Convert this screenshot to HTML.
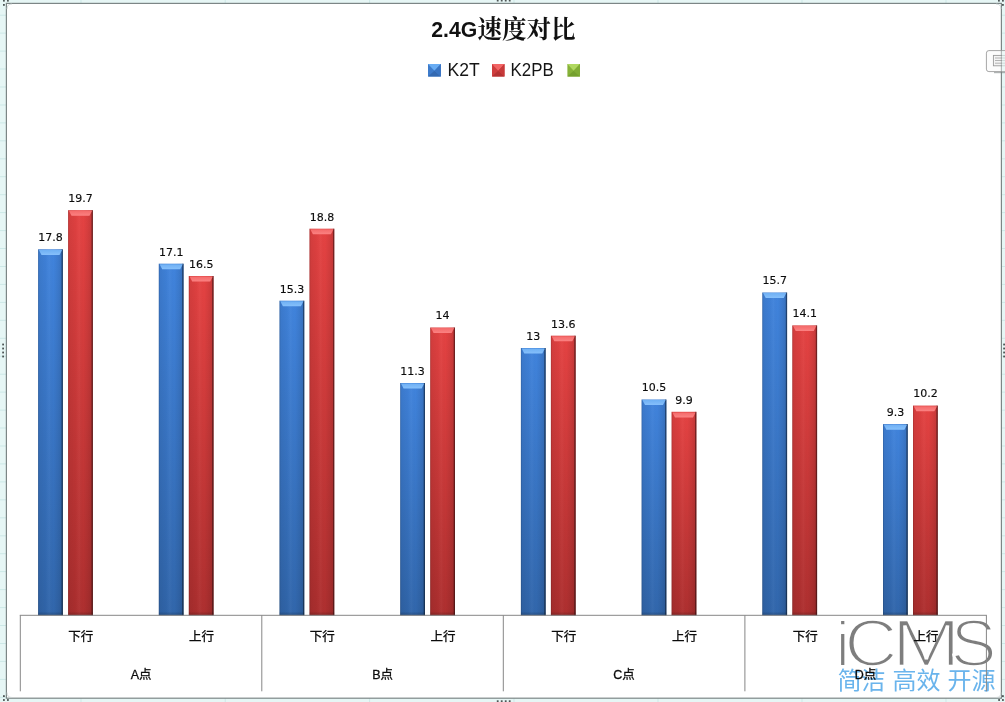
<!DOCTYPE html>
<html lang="zh"><head><meta charset="utf-8"><title>2.4G速度对比</title>
<style>
html,body{margin:0;padding:0;background:#e6f6f5;}
body{width:1005px;height:702px;overflow:hidden;position:relative;font-family:"Liberation Sans","Noto Sans CJK SC",sans-serif;}
svg{position:absolute;left:0;top:0;display:block}
.dl text{font-family:"DejaVu Sans","Liberation Sans",sans-serif;font-size:11px;text-anchor:middle;fill:#0c0c0c;stroke:#0c0c0c;stroke-width:.15px}
.cl text{font-family:"Liberation Sans","Noto Sans CJK SC",sans-serif;font-size:12.5px;text-anchor:middle;fill:#0c0c0c;stroke:#0c0c0c;stroke-width:.3px}
.gl text{font-family:"Liberation Sans","Noto Sans CJK SC",sans-serif;font-size:12.5px;text-anchor:middle;fill:#0c0c0c;stroke:#0c0c0c;stroke-width:.3px}
.ax line{stroke:#868686;stroke-width:1}
</style></head><body>
<svg width="1005" height="702" viewBox="0 0 1005 702">
<defs>
<linearGradient id="gb" x1="0" y1="0" x2="0" y2="1"><stop offset="0" stop-color="#4083dc"/><stop offset="1" stop-color="#3166ab"/></linearGradient>
<linearGradient id="gr" x1="0" y1="0" x2="0" y2="1"><stop offset="0" stop-color="#e44242"/><stop offset="1" stop-color="#ad2f2f"/></linearGradient>
<linearGradient id="side" x1="0" y1="0" x2="1" y2="0"><stop offset="0" stop-color="#000" stop-opacity=".26"/><stop offset=".035" stop-color="#000" stop-opacity=".12"/><stop offset=".06" stop-color="#000" stop-opacity=".07"/><stop offset=".3" stop-color="#000" stop-opacity=".03"/><stop offset=".45" stop-color="#fff" stop-opacity=".03"/><stop offset=".62" stop-color="#000" stop-opacity="0"/><stop offset=".8" stop-color="#000" stop-opacity=".06"/><stop offset=".93" stop-color="#000" stop-opacity=".12"/><stop offset=".955" stop-color="#000" stop-opacity=".45"/><stop offset="1" stop-color="#000" stop-opacity=".55"/></linearGradient>
<linearGradient id="tb" x1="0" y1="0" x2="0" y2="1"><stop offset="0" stop-color="#6fb0f4"/><stop offset="1" stop-color="#86c0fb"/></linearGradient>
<linearGradient id="tr" x1="0" y1="0" x2="0" y2="1"><stop offset="0" stop-color="#f46a6a"/><stop offset="1" stop-color="#fb8282"/></linearGradient>
<linearGradient id="bot" x1="0" y1="0" x2="0" y2="1"><stop offset="0" stop-color="#000" stop-opacity="0"/><stop offset="1" stop-color="#000" stop-opacity=".22"/></linearGradient>
</defs>
<!-- sheet background -->
<rect width="1005" height="702" fill="#e6f6f5"/>
<path d="M0 15.2H1005M0 33.1H1005M0 51.1H1005M0 69.0H1005M0 87.0H1005M0 105.0H1005M0 122.9H1005M0 140.8H1005M0 158.8H1005M0 176.7H1005M0 194.7H1005M0 212.6H1005M0 230.6H1005M0 248.5H1005M0 266.5H1005M0 284.4H1005M0 302.4H1005M0 320.3H1005M0 338.3H1005M0 356.2H1005M0 374.2H1005M0 392.1H1005M0 410.1H1005M0 428.0H1005M0 446.0H1005M0 463.9H1005M0 481.9H1005M0 499.8H1005M0 517.8H1005M0 535.8H1005M0 553.7H1005M0 571.6H1005M0 589.6H1005M0 607.6H1005M0 625.5H1005M0 643.5H1005M0 661.4H1005M0 679.4H1005M0 697.3H1005M81 0V702M225.2 0V702M369.6 0V702M514 0V702M658 0V702M802 0V702M946 0V702" stroke="#cde8e7" stroke-width="1" fill="none"/>
<!-- chart area -->
<rect x="6.4" y="3.4" width="995" height="694.8" fill="#fff" stroke="#7c8686" stroke-width="1.2"/>
<g fill="none" stroke="#c9d2d2" stroke-width=".8"><path d="M7 9Q7 4 12 4"/><path d="M1001 9Q1001 4 996 4"/><path d="M7 692.5Q7 697.5 12 697.5"/><path d="M1001 692.5Q1001 697.5 996 697.5"/></g>
<!-- watermark -->
<g id="wm">
<text y="666.4" font-family="'Liberation Sans',sans-serif" font-size="66.6" fill="#7e7e7e" stroke="#fff" stroke-width="2.6"><tspan x="835.7" font-size="63" stroke-width="2.2">i</tspan><tspan x="844.3" textLength="53.4" lengthAdjust="spacingAndGlyphs">C</tspan><tspan x="891.2" textLength="69.9" lengthAdjust="spacingAndGlyphs">M</tspan><tspan x="950.6" textLength="46.1" lengthAdjust="spacingAndGlyphs">S</tspan></text>
<text x="837.5" y="688.8" font-family="'Liberation Sans','Noto Sans CJK SC',sans-serif" font-size="24" fill="#6ab4ec" textLength="158">简洁 高效 开源</text>
</g>
<!-- bars -->
<g><g transform="translate(38.1,249.3)"><rect width="24.8" height="366.1" fill="url(#gb)"/><rect width="24.8" height="366.1" fill="url(#side)"/><path d="M0.8 0.6H24.0L21.4 5.6H3.4Z" fill="url(#tb)"/><rect y="362.1" width="24.8" height="4" fill="url(#bot)"/></g><g transform="translate(68.1,210.2)"><rect width="24.8" height="405.2" fill="url(#gr)"/><rect width="24.8" height="405.2" fill="url(#side)"/><path d="M0.8 0.6H24.0L21.4 5.6H3.4Z" fill="url(#tr)"/><rect y="401.2" width="24.8" height="4" fill="url(#bot)"/></g><g transform="translate(158.8,263.7)"><rect width="24.8" height="351.7" fill="url(#gb)"/><rect width="24.8" height="351.7" fill="url(#side)"/><path d="M0.8 0.6H24.0L21.4 5.6H3.4Z" fill="url(#tb)"/><rect y="347.7" width="24.8" height="4" fill="url(#bot)"/></g><g transform="translate(188.8,276.0)"><rect width="24.8" height="339.4" fill="url(#gr)"/><rect width="24.8" height="339.4" fill="url(#side)"/><path d="M0.8 0.6H24.0L21.4 5.6H3.4Z" fill="url(#tr)"/><rect y="335.4" width="24.8" height="4" fill="url(#bot)"/></g><g transform="translate(279.5,300.7)"><rect width="24.8" height="314.7" fill="url(#gb)"/><rect width="24.8" height="314.7" fill="url(#side)"/><path d="M0.8 0.6H24.0L21.4 5.6H3.4Z" fill="url(#tb)"/><rect y="310.7" width="24.8" height="4" fill="url(#bot)"/></g><g transform="translate(309.5,228.7)"><rect width="24.8" height="386.7" fill="url(#gr)"/><rect width="24.8" height="386.7" fill="url(#side)"/><path d="M0.8 0.6H24.0L21.4 5.6H3.4Z" fill="url(#tr)"/><rect y="382.7" width="24.8" height="4" fill="url(#bot)"/></g><g transform="translate(400.2,383.0)"><rect width="24.8" height="232.4" fill="url(#gb)"/><rect width="24.8" height="232.4" fill="url(#side)"/><path d="M0.8 0.6H24.0L21.4 5.6H3.4Z" fill="url(#tb)"/><rect y="228.4" width="24.8" height="4" fill="url(#bot)"/></g><g transform="translate(430.2,327.5)"><rect width="24.8" height="288.0" fill="url(#gr)"/><rect width="24.8" height="288.0" fill="url(#side)"/><path d="M0.8 0.6H24.0L21.4 5.6H3.4Z" fill="url(#tr)"/><rect y="284.0" width="24.8" height="4" fill="url(#bot)"/></g><g transform="translate(520.9,348.0)"><rect width="24.8" height="267.4" fill="url(#gb)"/><rect width="24.8" height="267.4" fill="url(#side)"/><path d="M0.8 0.6H24.0L21.4 5.6H3.4Z" fill="url(#tb)"/><rect y="263.4" width="24.8" height="4" fill="url(#bot)"/></g><g transform="translate(550.9,335.7)"><rect width="24.8" height="279.8" fill="url(#gr)"/><rect width="24.8" height="279.8" fill="url(#side)"/><path d="M0.8 0.6H24.0L21.4 5.6H3.4Z" fill="url(#tr)"/><rect y="275.8" width="24.8" height="4" fill="url(#bot)"/></g><g transform="translate(641.6,399.5)"><rect width="24.8" height="216.0" fill="url(#gb)"/><rect width="24.8" height="216.0" fill="url(#side)"/><path d="M0.8 0.6H24.0L21.4 5.6H3.4Z" fill="url(#tb)"/><rect y="212.0" width="24.8" height="4" fill="url(#bot)"/></g><g transform="translate(671.6,411.8)"><rect width="24.8" height="203.6" fill="url(#gr)"/><rect width="24.8" height="203.6" fill="url(#side)"/><path d="M0.8 0.6H24.0L21.4 5.6H3.4Z" fill="url(#tr)"/><rect y="199.6" width="24.8" height="4" fill="url(#bot)"/></g><g transform="translate(762.3,292.5)"><rect width="24.8" height="322.9" fill="url(#gb)"/><rect width="24.8" height="322.9" fill="url(#side)"/><path d="M0.8 0.6H24.0L21.4 5.6H3.4Z" fill="url(#tb)"/><rect y="318.9" width="24.8" height="4" fill="url(#bot)"/></g><g transform="translate(792.3,325.4)"><rect width="24.8" height="290.0" fill="url(#gr)"/><rect width="24.8" height="290.0" fill="url(#side)"/><path d="M0.8 0.6H24.0L21.4 5.6H3.4Z" fill="url(#tr)"/><rect y="286.0" width="24.8" height="4" fill="url(#bot)"/></g><g transform="translate(883.0,424.1)"><rect width="24.8" height="191.3" fill="url(#gb)"/><rect width="24.8" height="191.3" fill="url(#side)"/><path d="M0.8 0.6H24.0L21.4 5.6H3.4Z" fill="url(#tb)"/><rect y="187.3" width="24.8" height="4" fill="url(#bot)"/></g><g transform="translate(913.0,405.6)"><rect width="24.8" height="209.8" fill="url(#gr)"/><rect width="24.8" height="209.8" fill="url(#side)"/><path d="M0.8 0.6H24.0L21.4 5.6H3.4Z" fill="url(#tr)"/><rect y="205.8" width="24.8" height="4" fill="url(#bot)"/></g></g>
<!-- axis -->
<g class="ax"><line x1="19.8" y1="615.3" x2="986.9" y2="615.3"/><line x1="20.3" y1="615.3" x2="20.3" y2="691.3"/><line x1="261.8" y1="615.3" x2="261.8" y2="691.3"/><line x1="503.3" y1="615.3" x2="503.3" y2="691.3"/><line x1="744.9" y1="615.3" x2="744.9" y2="691.3"/><line x1="986.4" y1="615.3" x2="986.4" y2="691.3"/></g>
<g class="dl"><text x="50.5" y="241.1">17.8</text><text x="80.5" y="202.0">19.7</text><text x="171.2" y="255.5">17.1</text><text x="201.2" y="267.8">16.5</text><text x="291.9" y="292.5">15.3</text><text x="321.9" y="220.5">18.8</text><text x="412.6" y="374.8">11.3</text><text x="442.6" y="319.3">14</text><text x="533.3" y="339.8">13</text><text x="563.3" y="327.5">13.6</text><text x="654.0" y="391.3">10.5</text><text x="684.0" y="403.6">9.9</text><text x="774.7" y="284.3">15.7</text><text x="804.7" y="317.2">14.1</text><text x="895.4" y="415.9">9.3</text><text x="925.4" y="397.4">10.2</text></g>
<g class="cl"><text x="80.7" y="641">下行</text><text x="201.4" y="641">上行</text><text x="322.2" y="641">下行</text><text x="443.0" y="641">上行</text><text x="563.7" y="641">下行</text><text x="684.5" y="641">上行</text><text x="805.2" y="641">下行</text><text x="926.0" y="641">上行</text></g>
<g class="gl"><text x="141.1" y="679">A点</text><text x="382.6" y="679">B点</text><text x="624.1" y="679">C点</text><text x="865.6" y="679">D点</text></g>
<!-- title -->
<text y="37" font-family="'Liberation Sans','Noto Serif CJK SC',serif" fill="#111"><tspan x="431.2" font-weight="bold" font-size="21.5" textLength="46" lengthAdjust="spacingAndGlyphs">2.4G</tspan><tspan x="477.4" y="37.6" font-weight="700" font-size="25" textLength="98" lengthAdjust="spacingAndGlyphs">速度对比</tspan></text>
<!-- legend -->
<g font-family="'Liberation Sans',sans-serif" font-size="17.7" fill="#151515">
<rect x="428" y="64" width="12.9" height="12.5" fill="#3d7bcb"/><path d="M428 64H440.9L434.45 70.75Z" fill="#68acf3"/><path d="M428 76.5H440.9L434.45 70.75Z" fill="#3369b1"/><path d="M440.9 64V76.5L434.45 70.75Z" fill="#3974c2"/><text x="447.6" y="76.4" textLength="32.2" lengthAdjust="spacingAndGlyphs">K2T</text>
<rect x="492" y="64" width="12.5" height="12.5" fill="#cf3d3d"/><path d="M492 64H504.5L498.25 70.75Z" fill="#f26565"/><path d="M492 76.5H504.5L498.25 70.75Z" fill="#b43232"/><path d="M504.5 64V76.5L498.25 70.75Z" fill="#c73939"/><text x="510.6" y="76.4" textLength="43.2" lengthAdjust="spacingAndGlyphs">K2PB</text>
<rect x="567.4" y="64" width="12.6" height="12.5" fill="#86b238"/><path d="M567.4 64H580.0L573.7 70.75Z" fill="#b0d860"/><path d="M567.4 76.5H580.0L573.7 70.75Z" fill="#74a02e"/><path d="M580.0 64V76.5L573.7 70.75Z" fill="#80ac35"/>
</g>
<!-- side tab -->
<rect x="994" y="71.6" width="12" height="1.6" fill="#6f7777" opacity=".55"/>
<rect x="986.4" y="50.6" width="24" height="21" rx="2.5" fill="#fbfbfb" fill-opacity=".82" stroke="#a6a6a6" stroke-width="1"/>
<rect x="993.4" y="55.4" width="12" height="10.4" fill="#f4f4f4" stroke="#9a9a9a" stroke-width=".9"/>
<g stroke="#a2a2a2" stroke-width=".8"><line x1="995" y1="58" x2="1005" y2="58"/><line x1="995" y1="60.5" x2="1005" y2="60.5"/><line x1="995" y1="63.2" x2="1005" y2="63.2"/></g>
<line x1="1001.4" y1="50" x2="1001.4" y2="73" stroke="#7c8686" stroke-width="1.1" opacity=".5"/>
<rect x="1002" y="51.2" width="3" height="20" fill="#e6f6f5" opacity=".6"/>
<!-- handles -->
<g fill="#4e5555"><rect x="2.2" y="343.6" width="1.8" height="1.8"/><rect x="1003.2" y="343.6" width="1.8" height="1.8"/><rect x="2.2" y="347.6" width="1.8" height="1.8"/><rect x="1003.2" y="347.6" width="1.8" height="1.8"/><rect x="2.2" y="351.6" width="1.8" height="1.8"/><rect x="1003.2" y="351.6" width="1.8" height="1.8"/><rect x="2.2" y="355.6" width="1.8" height="1.8"/><rect x="1003.2" y="355.6" width="1.8" height="1.8"/><rect x="496.8" y="-0.3" width="1.8" height="1.8"/><rect x="496.8" y="700.3" width="1.8" height="1.8"/><rect x="500.8" y="-0.3" width="1.8" height="1.8"/><rect x="500.8" y="700.3" width="1.8" height="1.8"/><rect x="504.8" y="-0.3" width="1.8" height="1.8"/><rect x="504.8" y="700.3" width="1.8" height="1.8"/><rect x="508.8" y="-0.3" width="1.8" height="1.8"/><rect x="508.8" y="700.3" width="1.8" height="1.8"/><rect x="3" y="-0.2" width="1.8" height="1.8"/><rect x="7" y="-0.2" width="1.8" height="1.8"/><rect x="3" y="4" width="1.8" height="1.8"/><rect x="998" y="-0.2" width="1.8" height="1.8"/><rect x="1002" y="-0.2" width="1.8" height="1.8"/><rect x="1002" y="4" width="1.8" height="1.8"/><rect x="3" y="695.2" width="1.8" height="1.8"/><rect x="3" y="699.1" width="1.8" height="1.8"/><rect x="7" y="699.1" width="1.8" height="1.8"/><rect x="1002" y="695.2" width="1.8" height="1.8"/><rect x="998.2" y="699.1" width="1.8" height="1.8"/><rect x="1002" y="699.1" width="1.8" height="1.8"/></g>
</svg>
</body></html>
